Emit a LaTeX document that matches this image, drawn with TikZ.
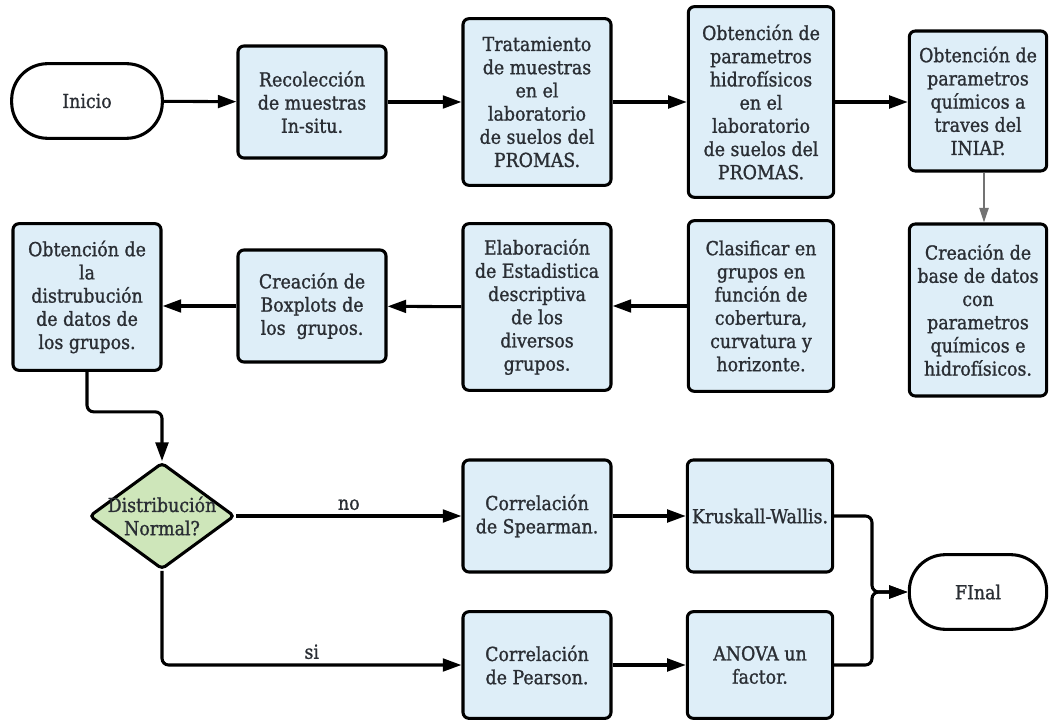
\documentclass[tikz,border=0pt]{standalone}
\usepackage{fontspec}
\setmainfont{DejaVu Serif Condensed}[FakeBold=1.2]
\usetikzlibrary{arrows.meta,shapes.geometric}
\definecolor{boxblue}{RGB}{222,238,248}
\definecolor{decgreen}{RGB}{206,230,186}
\definecolor{txtgray}{RGB}{42,46,52}

\begin{document}
\begin{tikzpicture}[x=0.75pt,y=-0.75pt,
		every node/.style={font=\fontsize{14.5}{17.4}\selectfont, text=txtgray},
		box/.style={draw=black, line width=2.3pt, fill=boxblue, rounded corners=4.5pt, align=center, inner sep=2pt},
		term/.style={draw=black, line width=2.3pt, fill=white, rounded corners=27pt, minimum height=56pt, align=center},
		decision/.style={diamond, draw=black, line width=2.3pt, fill=decgreen, rounded corners=3pt, minimum width=109pt, minimum height=80pt, inner sep=0pt},
		arr/.style={line width=2.3pt, -{Triangle[length=14pt,width=9.5pt]}},
		thinarr/.style={draw=black!55, line width=1.2pt, -{Triangle[length=11pt,width=7pt]}}]
		\useasboundingbox (0,0) rectangle (1052,723);
		
		\node [term, minimum width=113pt] (ini) at (87,101) {Inicio};
		\node [box, minimum width=111pt, minimum height=84pt] (rec) at (312,102) {Recolección\\de muestras\\In-situ.};
		\node [box, minimum width=111pt, minimum height=125pt] (trat) at (537,102) {Tratamiento\\de muestras\\en el\\laboratorio\\de suelos del\\PROMAS.};
		\node [box, minimum width=109pt, minimum height=143pt] (hidro) at (761,102) {Obtención de\\parametros\\hidrofísicos\\en el\\laboratorio\\de suelos del\\PROMAS.};
		\node [box, minimum width=103pt, minimum height=105pt] (quim) at (978,101) {Obtención de\\parametros\\químicos a\\traves del\\INIAP.};
		
		\node [box, minimum width=103pt, minimum height=129pt] (base) at (978,310) {Creación de\\base de datos\\con\\parametros\\químicos e\\hidrofísicos.};
		\node [box, minimum width=109pt, minimum height=128pt] (clas) at (761,306) {Clasificar en\\grupos en\\función de\\cobertura,\\curvatura y\\horizonte.};
		\node [box, minimum width=111pt, minimum height=125pt] (elab) at (537,307) {Elaboración\\de Estadistica\\descriptiva\\de los\\diversos\\grupos.};
		\node [box, minimum width=111pt, minimum height=84pt] (bxp) at (312,306) {Creación de\\Boxplots de\\los\ \ grupos.};
		\node [box, minimum width=111pt, minimum height=110pt] (dist) at (87,297) {Obtención de\\la\\distrubución\\de datos de\\los grupos.};
		
		\node [decision] (norm) at (162,516) {};
		\node [align=center] (normtxt) at (norm.center) {Distribución\\Normal?};
		\node [box, minimum width=111pt, minimum height=84pt] (spear) at (537,516) {Correlación\\de Spearman.};
		\node [box, minimum width=109pt, minimum height=84pt] (krus) at (760,516) {Kruskall-Wallis.};
		\node [box, minimum width=111pt, minimum height=80pt] (pear) at (537,665) {Correlación\\de Pearson.};
		\node [box, minimum width=109pt, minimum height=80pt] (anova) at (760,665) {ANOVA un\\factor.};
		\node [term, minimum width=103pt] (fin) at (978,592) {FInal};
		\coordinate (join) at (872,592);
		
		\draw [arr] (ini) -- (rec);
		\draw [arr] (rec) -- (trat);
		\draw [arr] (trat) -- (hidro);
		\draw [arr] (hidro.east) -- (hidro.east -| quim.west);
		\draw [thinarr] ([xshift=4.5pt]quim.south) -- ([xshift=4.5pt]base.north);
		\draw [arr] (clas.west) -- (clas.west -| elab.east);
		\draw [arr] (elab) -- (bxp);
		\draw [arr] (bxp.west) -- (bxp.west -| dist.east);
		\draw [arr, rounded corners=5pt] (dist.south) -- ++(0,40) -| (norm.north);
		\draw [arr] (norm.east) -- node [above] {no} (spear.west);
		\draw [arr, rounded corners=5pt] (norm.south) |- node [pos=0.75, above] {si} (pear.west);
		\draw [arr] (spear) -- (krus);
		\draw [arr] (pear.east) -- (pear.east -| anova.west);
		\draw [arr, rounded corners=5pt] (krus.east) -| (join) -- (fin.west);
		\draw [arr, rounded corners=5pt] (anova.east) -| (join) -- (fin.west);
	\end{tikzpicture}
\end{document}
